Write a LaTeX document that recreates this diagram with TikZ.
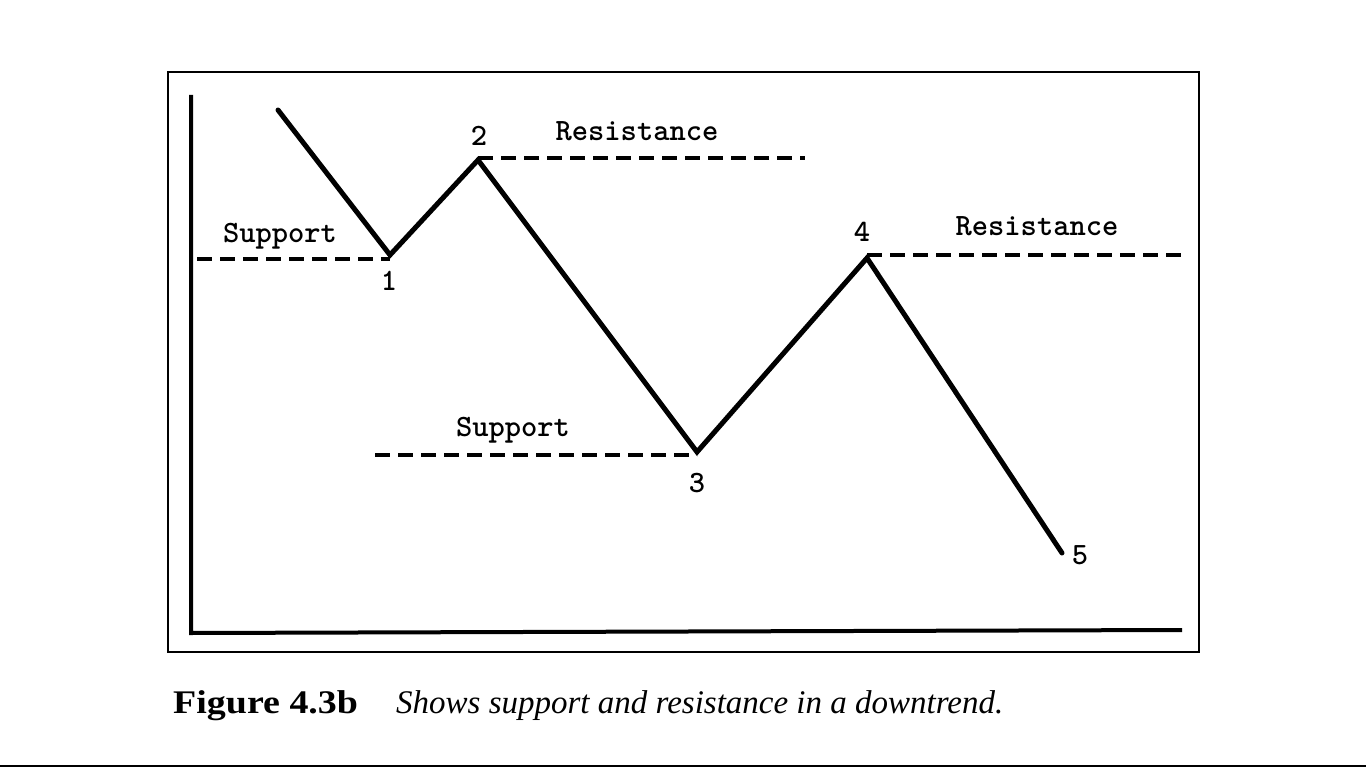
\documentclass[tikz,border=0pt]{standalone}
\usepackage{fontspec}
\setmainfont{Liberation Serif}
\begin{document}
\begin{tikzpicture}[x=1pt,y=-1pt,
  frame/.style={line width=2pt},
  axis/.style={line width=4pt},
  price/.style={line width=5pt,line join=miter,line cap=round},
  level/.style={line width=4pt,dash pattern=on 15pt off 8pt},
  lbl/.style={inner sep=0pt,anchor=base,font=\fontsize{31}{36}\ttfamily\bfseries},
  captext/.style={inner sep=0pt,anchor=base west,font=\fontsize{33}{38}\selectfont}]
\useasboundingbox (0,0) rectangle (1366,768);
\fill[white] (0,0) rectangle (1366,768);
% frame and axes
\draw[frame] (168,72) rectangle (1199,652);
\coordinate (ytop) at (191,95);
\coordinate (origin) at (191,633);
\coordinate (xend) at (1182,630);
\draw[axis] (ytop) -- (origin) -- (xend);
% price points
\coordinate (p0) at (278,110);
\coordinate (p1) at (390,255);
\coordinate (p2) at (478,160);
\coordinate (p3) at (697,452);
\coordinate (p4) at (867,258);
\coordinate (p5) at (1062,553);
\draw[price] (p0) -- (p1) -- (p2) -- (p3) -- (p4) -- (p5);
% support / resistance levels
\coordinate (s1a) at (197,259);
\coordinate (s1b) at (390,259);
\coordinate (r2a) at (478,158);
\coordinate (r2b) at (805,158);
\coordinate (s3a) at (375,455);
\coordinate (s3b) at (697,455);
\coordinate (r4a) at (867,255);
\coordinate (r4b) at (1183,255);
\draw[level] (s1a) -- (s1b);
\draw[level] (r2a) -- (r2b);
\draw[level] (s3a) -- (s3b);
\draw[level] (r4a) -- (r4b);
% labels
\node[lbl] (sup1) at (280,242) {Support};
\node[lbl] (n1) at (389,290) {1};
\node[lbl] (n2) at (479,145) {2};
\node[lbl] (res2) at (637,140) {Resistance};
\node[lbl] (n4) at (862,241) {4};
\node[lbl] (res4) at (1037,235) {Resistance};
\node[lbl] (sup3) at (513,436) {Support};
\node[lbl] (n3) at (697,492) {3};
\node[lbl] (n5) at (1080,564) {5};
% caption
\node[captext,xscale=1.15] (figno) at (173,713) {\bfseries Figure 4.3b};
\node[captext] (figtext) at (396,713) {\itshape Shows support and resistance in a downtrend.};
% bottom rule
\coordinate (ruleL) at (0,766);
\coordinate (ruleR) at (1366,766);
\draw[line width=2pt] (ruleL) -- (ruleR);
\end{tikzpicture}
\end{document}
